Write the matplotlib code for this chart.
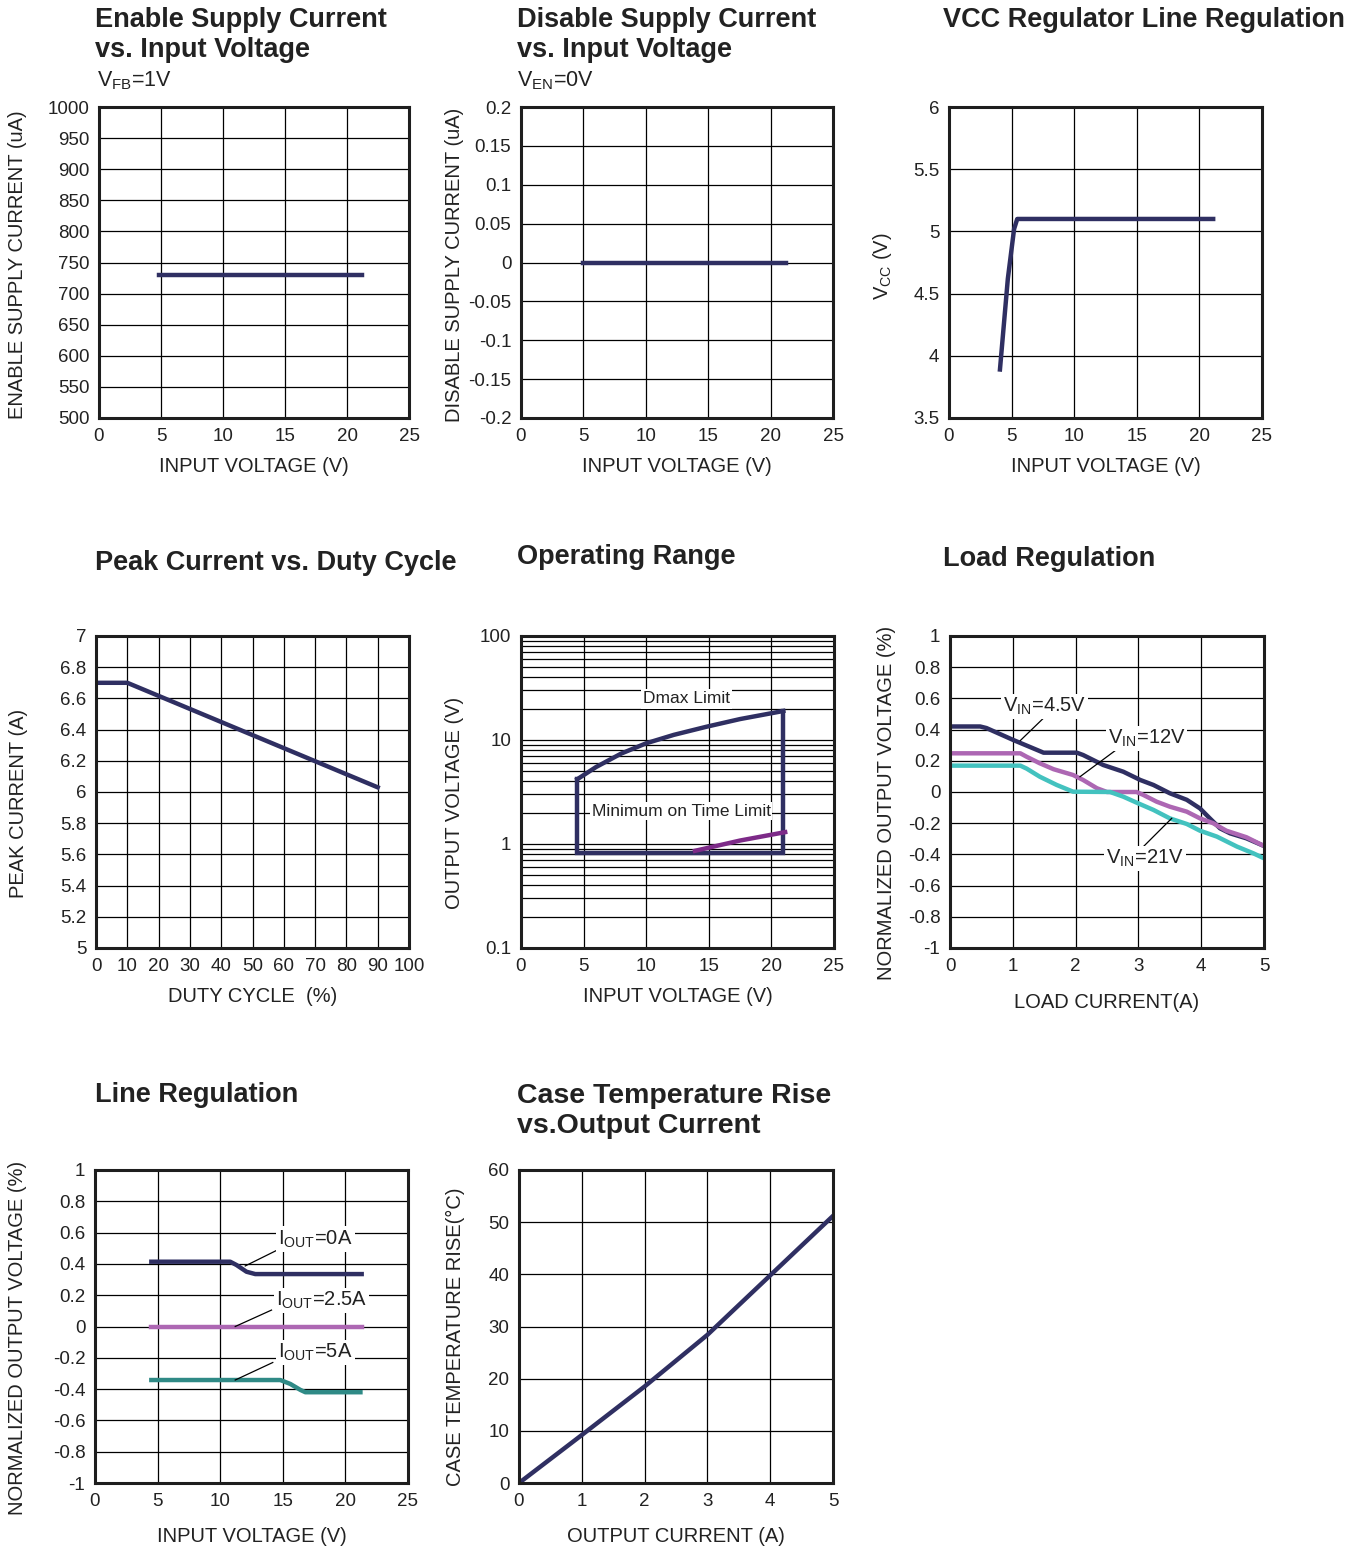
import numpy as np
import matplotlib
matplotlib.use("Agg")
import matplotlib.pyplot as plt

plt.rcParams['font.family'] = ['Liberation Sans', 'DejaVu Sans']
plt.rcParams['mathtext.fontset'] = 'custom'
plt.rcParams['mathtext.rm'] = 'Liberation Sans'
plt.rcParams['mathtext.it'] = 'Liberation Sans:italic'

# ==========================================================
# DATA
# ==========================================================
NAVY = "#2f2f62"
PINK = "#ad67b3"
TEAL = "#43c2bf"
TEAL_DARK = "#2f8a86"
PURPLE = "#7d2a88"

# Enable supply current vs input voltage
en_vin = [4.8, 21.2]
en_iq = [730, 730]

# Disable supply current vs input voltage
dis_vin = [5.0, 21.2]
dis_iq = [0.0, 0.0]

# VCC regulator line regulation
vcc_vin = [4.07, 4.7, 5.2, 5.45, 21.1]
vcc_v = [3.89, 4.62, 5.02, 5.10, 5.10]

# Peak current vs duty cycle
duty = [0, 10, 90]
ipeak = [6.70, 6.70, 6.03]

# Operating range
dmax_vin = [4.5, 6.0, 8.0, 10.0, 12.2, 14.8, 17.5, 20.95]
dmax_vout = [4.2, 5.5, 7.4, 9.3, 11.2, 13.4, 15.9, 19.0]
range_vin_min = 4.5
range_vin_max = 20.95
range_vout_min = 0.82
ton_vin = [13.9, 17.5, 21.1]
ton_vout = [0.86, 1.08, 1.30]

# Load regulation
iload_45 = [0, 0.48, 0.58, 1.01, 1.49, 2.02, 2.12, 2.44, 2.76, 3.03, 3.24, 3.5, 3.77, 3.98, 4.14, 4.3, 4.46, 4.72, 5.0]
vload_45 = [0.42, 0.42, 0.41, 0.333, 0.252, 0.252, 0.237, 0.173, 0.13, 0.077, 0.045, -0.008, -0.05, -0.105, -0.17, -0.233, -0.265, -0.297, -0.346]
iload_12 = [0, 1.12, 1.22, 1.43, 1.65, 1.96, 2.12, 2.34, 2.5, 2.97, 3.08, 3.29, 3.5, 3.77, 3.98, 4.19, 4.4, 4.72, 5.0]
vload_12 = [0.248, 0.248, 0.226, 0.184, 0.146, 0.109, 0.077, 0.024, 0.0, 0.0, -0.019, -0.062, -0.094, -0.126, -0.169, -0.2, -0.248, -0.29, -0.346]
iload_21 = [0, 1.12, 1.22, 1.43, 1.7, 1.96, 2.55, 2.76, 2.97, 3.24, 3.5, 3.77, 3.98, 4.25, 4.57, 4.83, 5.0]
vload_21 = [0.169, 0.169, 0.15, 0.098, 0.045, 0.002, 0.0, -0.03, -0.068, -0.115, -0.169, -0.205, -0.248, -0.286, -0.35, -0.393, -0.425]

# Line regulation
line_vin_0a = [4.5, 10.8, 11.3, 12.1, 12.8, 21.3]
line_v_0a = [0.414, 0.414, 0.393, 0.35, 0.335, 0.335]
line_vin_25a = [4.5, 21.3]
line_v_25a = [0.0, 0.0]
line_vin_5a = [4.5, 14.8, 15.6, 16.4, 16.8, 21.2]
line_v_5a = [-0.342, -0.342, -0.367, -0.405, -0.42, -0.42]

# Case temperature rise vs output current
iout_t = [0, 1, 2, 3, 4, 5]
trise = [0, 9.2, 18.5, 28.4, 39.8, 51.2]

# Tick labels
vin_ticks = [0, 5, 10, 15, 20, 25]
en_ticks = list(range(500, 1001, 50))
dis_ticks = [-0.2, -0.15, -0.1, -0.05, 0, 0.05, 0.1, 0.15, 0.2]
dis_labels = ["-0.2", "-0.15", "-0.1", "-0.05", "0", "0.05", "0.1", "0.15", "0.2"]
vcc_ticks = [3.5, 4, 4.5, 5, 5.5, 6]
duty_ticks = list(range(0, 101, 10))
ipk_ticks = [5, 5.2, 5.4, 5.6, 5.8, 6, 6.2, 6.4, 6.6, 6.8, 7]
vout_ticks = [0.1, 1, 10, 100]
vout_labels = ["0.1", "1", "10", "100"]
norm_ticks = [-1, -0.8, -0.6, -0.4, -0.2, 0, 0.2, 0.4, 0.6, 0.8, 1]
norm_labels = ["-1", "-0.8", "-0.6", "-0.4", "-0.2", "0", "0.2", "0.4", "0.6", "0.8", "1"]
amp_ticks = [0, 1, 2, 3, 4, 5]
temp_ticks = [0, 10, 20, 30, 40, 50, 60]

# ==========================================================
# LAYOUT (pixel boxes of each plot area)
# ==========================================================
W, H = 1362, 1549
TICK_FS = 13.5
LAB_FS = 14.5
TAG_FS = 14.5
TITLE_FS = 19.5


def box(l, t, r, b):
    return [l / W, 1 - b / H, (r - l) / W, (b - t) / H]


def fmt(v):
    return f"{v:g}"


def setup(ax, xlim, ylim, xticks, yticks, xlab, ylab, pix, ylab_x, xlab_y,
          ylab_y=None, ylabels=None, log=False):
    l, t, r, b = pix
    if log:
        ax.set_yscale("log")
    ax.set_xlim(*xlim)
    ax.set_ylim(*ylim)
    ax.set_xticks(xticks)
    ax.set_xticklabels([fmt(v) for v in xticks])
    ax.set_yticks(yticks)
    ax.set_yticklabels(ylabels if ylabels else [fmt(v) for v in yticks])
    if log:
        ax.grid(True, which="both", color="black", lw=0.9)
        ax.tick_params(which="minor", length=0)
    else:
        ax.grid(True, color="black", lw=0.9)
    ax.tick_params(length=0, labelsize=TICK_FS, pad=7, colors="#222222")
    for s in ax.spines.values():
        s.set_linewidth(2.2)
        s.set_color("#1e1e1e")
        s.set_zorder(5)
    ax.set_axisbelow(True)
    ax.set_xlabel(xlab, fontsize=LAB_FS, color="#222222", va="center")
    ax.xaxis.set_label_coords(0.5, -(xlab_y - b) / (b - t))
    ax.set_ylabel(ylab, fontsize=LAB_FS, color="#222222", va="center")
    if ylab_y is None:
        ylab_y = (t + b) / 2
    ax.yaxis.set_label_coords((ylab_x - l) / (r - l), (b - ylab_y) / (b - t))


def title(x, y, s, bold=True, size=TITLE_FS):
    fig.text(x / W, 1 - y / H, s, fontsize=size, fontweight="bold" if bold else "normal",
             color="#222222", ha="left", va="baseline")


def tag(ax, x, y, s, x0, y0, x1, y1):
    ax.plot([x0, x1], [y0, y1], color="black", lw=0.9, zorder=3)
    ax.text(x, y, s, fontsize=TAG_FS, ha="center", va="center", color="#222222", zorder=4,
            bbox=dict(facecolor="white", edgecolor="none", pad=1.5))


fig = plt.figure(figsize=(W / 100, H / 100), dpi=100)

# Row 1 ------------------------------------------------------
p1 = (99, 107, 409, 418)
ax1 = fig.add_axes(box(*p1))
setup(ax1, (0, 25), (500, 1000), vin_ticks, en_ticks, "INPUT VOLTAGE (V)",
      "ENABLE SUPPLY CURRENT (uA)", p1, 18, 467, ylab_y=265)
ax1.plot(en_vin, en_iq, color=NAVY, lw=3.2)
title(95, 27, "Enable Supply Current")
title(95, 57, "vs. Input Voltage")
title(97, 86, r"V$_{\mathrm{FB}}$=1V", bold=False, size=15.5)

p2 = (521, 107, 833, 418)
ax2 = fig.add_axes(box(*p2))
setup(ax2, (0, 25), (-0.2, 0.2), vin_ticks, dis_ticks, "INPUT VOLTAGE (V)",
      "DISABLE SUPPLY CURRENT (uA)", p2, 455, 467, ylab_y=265, ylabels=dis_labels)
ax2.plot(dis_vin, dis_iq, color=NAVY, lw=3.2)
title(517, 27, "Disable Supply Current")
title(517, 57, "vs. Input Voltage")
title(517, 86, r"V$_{\mathrm{EN}}$=0V", bold=False, size=15.5)

p3 = (949, 107, 1262, 418)
ax3 = fig.add_axes(box(*p3))
setup(ax3, (0, 25), (3.5, 6), vin_ticks, vcc_ticks, "INPUT VOLTAGE (V)",
      r"V$_{\mathrm{CC}}$ (V)", p3, 882, 467, ylab_y=266)
ax3.plot(vcc_vin, vcc_v, color=NAVY, lw=3.2)
title(943, 27, "VCC Regulator Line Regulation")

# Row 2 ------------------------------------------------------
p4 = (96, 636, 409, 948)
ax4 = fig.add_axes(box(*p4))
setup(ax4, (0, 100), (5, 7), duty_ticks, ipk_ticks, "DUTY CYCLE  (%)",
      "PEAK CURRENT (A)", p4, 18, 997, ylab_y=803)
ax4.plot(duty, ipeak, color=NAVY, lw=3.2)
title(95, 570, "Peak Current vs. Duty Cycle")

p5 = (521, 636, 834, 948)
ax5 = fig.add_axes(box(*p5))
setup(ax5, (0, 25), (0.1, 100), vin_ticks, vout_ticks, "INPUT VOLTAGE (V)",
      "OUTPUT VOLTAGE (V)", p5, 455, 997, ylab_y=803, ylabels=vout_labels, log=True)
ax5.plot(dmax_vin, dmax_vout, color=NAVY, lw=3.2, solid_joinstyle="miter")
ax5.plot([range_vin_max, range_vin_max, range_vin_min, range_vin_min],
         [dmax_vout[-1], range_vout_min, range_vout_min, dmax_vout[0]],
         color=NAVY, lw=3.2, solid_joinstyle="miter")
ax5.plot(ton_vin, ton_vout, color=PURPLE, lw=3.2)
ax5.text(13.2, 24.8, "Dmax Limit", fontsize=12.5, ha="center", va="center", color="#222222",
         bbox=dict(facecolor="white", edgecolor="none", pad=1.5))
ax5.text(12.8, 2.07, "Minimum on Time Limit", fontsize=12.5, ha="center", va="center",
         color="#222222", bbox=dict(facecolor="white", edgecolor="none", pad=1.0))
title(517, 564, "Operating Range")

p6 = (950, 636, 1264, 948)
ax6 = fig.add_axes(box(*p6))
setup(ax6, (0, 5), (-1, 1), amp_ticks, norm_ticks, "LOAD CURRENT(A)",
      "NORMALIZED OUTPUT VOLTAGE (%)", p6, 886, 1002, ylab_y=803, ylabels=norm_labels)
ax6.plot(iload_45, vload_45, color=NAVY, lw=3.2)
ax6.plot(iload_12, vload_12, color=PINK, lw=3.2)
ax6.plot(iload_21, vload_21, color=TEAL, lw=3.2)
tag(ax6, 1.5, 0.55, r"V$_{\mathrm{IN}}$=4.5V", 1.48, 0.47, 1.12, 0.33)
tag(ax6, 3.13, 0.345, r"V$_{\mathrm{IN}}$=12V", 2.68, 0.28, 2.07, 0.098)
tag(ax6, 3.1, -0.425, r"V$_{\mathrm{IN}}$=21V", 3.03, -0.37, 3.53, -0.169)
title(943, 566, "Load Regulation")

# Row 3 ------------------------------------------------------
p7 = (95, 1170, 408, 1483)
ax7 = fig.add_axes(box(*p7))
setup(ax7, (0, 25), (-1, 1), vin_ticks, norm_ticks, "INPUT VOLTAGE (V)",
      "NORMALIZED OUTPUT VOLTAGE (%)", p7, 18, 1537, ylab_y=1338, ylabels=norm_labels)
ax7.plot(line_vin_0a, line_v_0a, color=NAVY, lw=3.2)
ax7.plot(line_vin_25a, line_v_25a, color=PINK, lw=3.2)
ax7.plot(line_vin_5a, line_v_5a, color=TEAL_DARK, lw=3.2)
tag(ax7, 17.6, 0.56, r"I$_{\mathrm{OUT}}$=0A", 14.6, 0.49, 12.0, 0.387)
tag(ax7, 18.1, 0.165, r"I$_{\mathrm{OUT}}$=2.5A", 14.1, 0.105, 11.2, 0.0)
tag(ax7, 17.6, -0.165, r"I$_{\mathrm{OUT}}$=5A", 14.2, -0.23, 11.2, -0.342)
title(95, 1102, "Line Regulation")

p8 = (519, 1170, 833, 1483)
ax8 = fig.add_axes(box(*p8))
setup(ax8, (0, 5), (0, 60), amp_ticks, temp_ticks, "OUTPUT CURRENT (A)",
      "CASE TEMPERATURE RISE(°C)", p8, 455, 1537, ylab_y=1337)
ax8.plot(iout_t, trise, color=NAVY, lw=3.2)
title(517, 1103, "Case Temperature Rise", size=20.5)
title(517, 1133, "vs.Output Current", size=20.5)

fig.savefig("out.png", dpi=100, facecolor="white")
